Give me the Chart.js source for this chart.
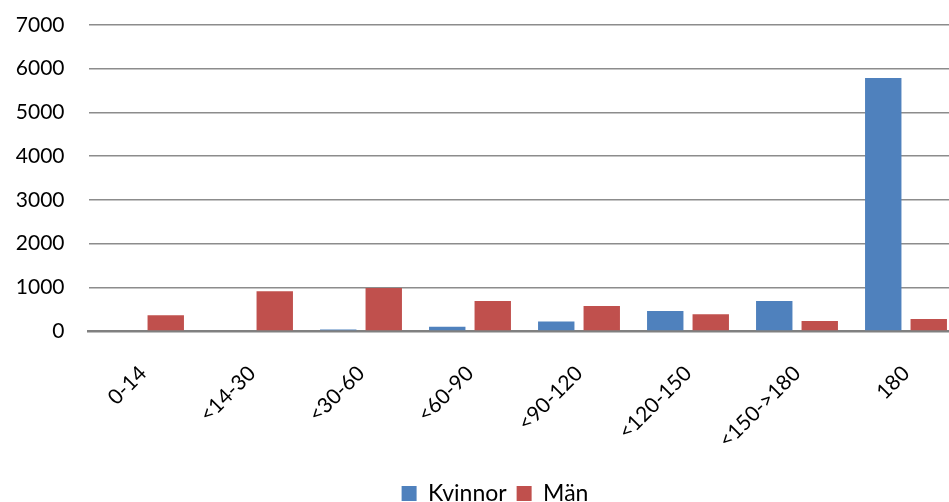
<!DOCTYPE html>
<html>
<head>
<meta charset="utf-8">
<script src="https://cdn.jsdelivr.net/npm/chart.js@4/dist/chart.umd.min.js"></script>
<style>
  html, body { margin: 0; padding: 0; background: #ffffff; overflow: hidden; }
  #wrap { position: relative; width: 990px; height: 515px; }
</style>
</head>
<body>
<div id="wrap"><canvas id="c"></canvas></div>
<script>
const categories = ["0-14", "<14-30", "<30-60", "<60-90", "<90-120", "<120-150", "<150->180", "180"];
const kvinnor = [0, 0, 35, 100, 215, 460, 685, 5790];
const man = [360, 910, 985, 685, 570, 385, 230, 277];
const seriesNames = ["Kvinnor", "Män"];
const yTicks = [0, 1000, 2000, 3000, 4000, 5000, 6000, 7000];

const FONT = "Lato, 'Open Sans', 'DejaVu Sans', sans-serif";

new Chart(document.getElementById('c'), {
  type: 'bar',
  data: {
    labels: categories,
    datasets: [
      { label: seriesNames[0], data: kvinnor, backgroundColor: '#4F81BD',
        categoryPercentage: 0.835, barPercentage: 0.8 },
      { label: seriesNames[1], data: man, backgroundColor: '#C0504D',
        categoryPercentage: 0.835, barPercentage: 0.8 }
    ]
  },
  options: {
    responsive: true,
    maintainAspectRatio: false,
    animation: false,
    layout: { padding: { left: 0, right: 0, top: 25, bottom: 0 } },
    plugins: {
      tooltip: { enabled: false },
      legend: {
        position: 'bottom',
        labels: {
          font: { family: FONT, size: 23 },
          color: '#000000',
          boxWidth: 15,
          boxHeight: 15,
          padding: 10
        }
      }
    },
    scales: {
      x: {
        grid: { display: false, drawTicks: false },
        border: { display: true, color: '#808080', width: 2.5 },
        ticks: {
          font: { family: FONT, size: 21 },
          color: '#000000',
          minRotation: 45,
          maxRotation: 45,
          padding: 30,
          autoSkip: false
        },
        afterFit: (s) => { s.height = 141; s.paddingLeft = 0; s.paddingRight = 0; }
      },
      y: {
        min: 0,
        max: 7000,
        afterBuildTicks: (s) => { s.ticks = yTicks.map(v => ({ value: v })); },
        grid: { color: '#8c8c8c', lineWidth: 1.5, drawTicks: false },
        border: { display: false },
        ticks: {
          font: { family: FONT, size: 21 },
          color: '#000000',
          padding: 24,
          callback: (v) => String(v)
        },
        afterFit: (s) => { s.width = 88.5; s.paddingTop = 0; s.paddingBottom = 0; }
      },
      yRight: {
        position: 'right',
        min: 0,
        max: 7000,
        grid: { display: false, drawTicks: false },
        border: { display: false },
        ticks: { display: false },
        afterFit: (s) => { s.width = 29.5; s.paddingTop = 0; s.paddingBottom = 0; }
      }
    }
  }
});
</script>
</body>
</html>
